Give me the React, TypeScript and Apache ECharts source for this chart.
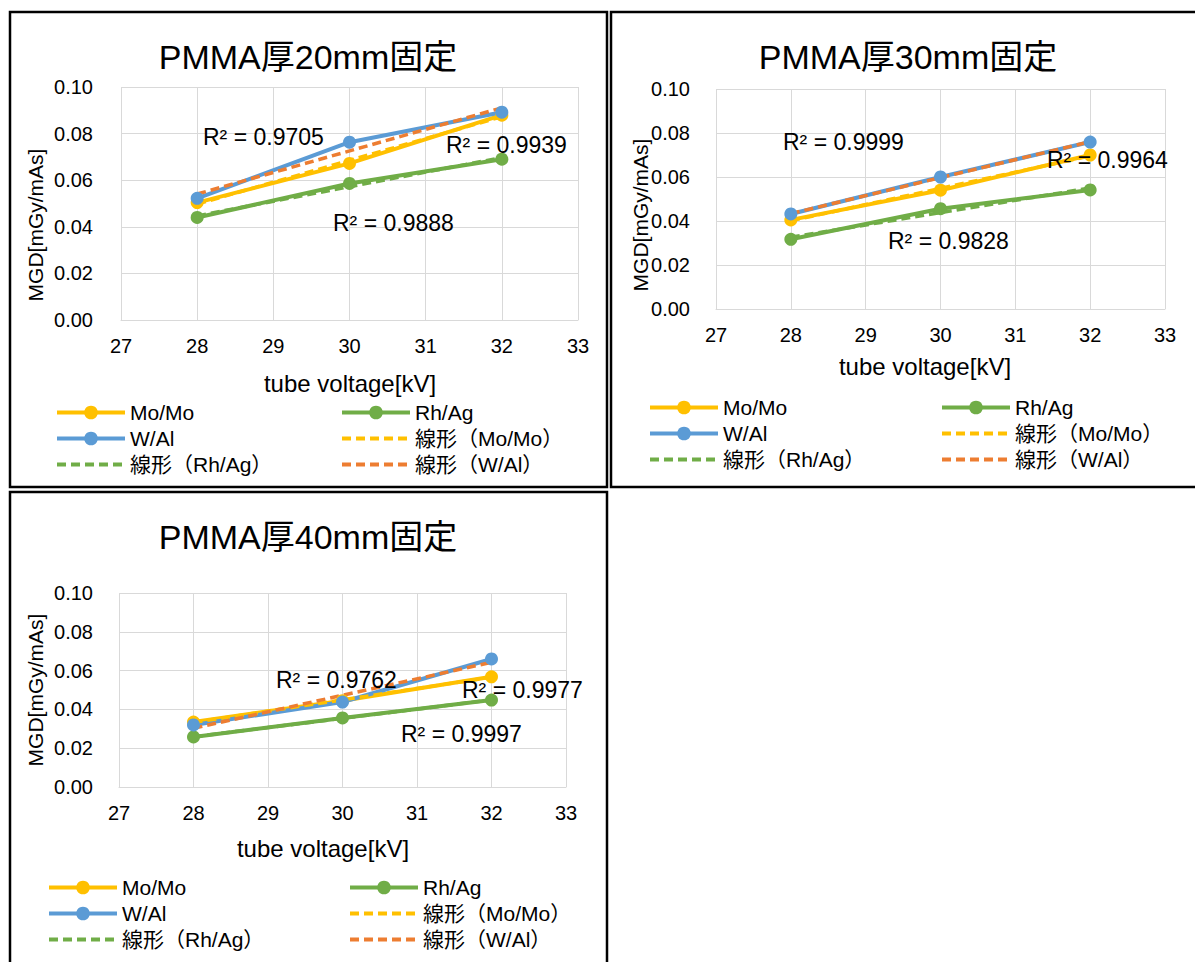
import React, { useEffect, useRef } from "react";
import * as echarts from "echarts";

// ---------- data ----------
const voltages = [28, 30, 32];
const seriesNames = ["Mo/Mo", "Rh/Ag", "W/Al"];
const trendNames = ["線形（Mo/Mo）", "線形（Rh/Ag）", "線形（W/Al）"];
const chartTitles = ["PMMA厚20mm固定", "PMMA厚30mm固定", "PMMA厚40mm固定"];
const xAxisTitle = "tube voltage[kV]";
const yAxisTitle = "MGD[mGy/mAs]";

const mgd20MoMo = [0.0504, 0.0672, 0.0879];
const mgd20RhAg = [0.044, 0.0586, 0.069];
const mgd20WAl = [0.0522, 0.0763, 0.0892];

const mgd30MoMo = [0.0405, 0.054, 0.07];
const mgd30RhAg = [0.0317, 0.0456, 0.0541];
const mgd30WAl = [0.0432, 0.06, 0.0759];

const mgd40MoMo = [0.0335, 0.0445, 0.0568];
const mgd40RhAg = [0.0258, 0.0356, 0.0448];
const mgd40WAl = [0.032, 0.0438, 0.066];

// R² labels as printed
const r2Labels20 = ["R² = 0.9705", "R² = 0.9939", "R² = 0.9888"];
const r2Labels30 = ["R² = 0.9999", "R² = 0.9964", "R² = 0.9828"];
const r2Labels40 = ["R² = 0.9762", "R² = 0.9977", "R² = 0.9997"];

const xMin = 27;
const xMax = 33;
const yMin = 0;
const yMax = 0.1;

// ---------- styles / layout ----------
const FONT = '"Liberation Sans", "Noto Sans CJK JP", sans-serif';
const SERIES_COLORS = ["#FFC000", "#70AD47", "#5B9BD5"];
const TREND_COLORS = ["#FFC000", "#70AD47", "#ED7D31"];
const GRID_COLOR = "#D9D9D9";

const layouts = [
  {
    box: [10, 12, 597, 475],
    title: [308, 57],
    grid: { left: 121, top: 87, width: 457, height: 233 },
    yLabelMargin: 28,
    yName: [35, 225],
    xName: [350, 383],
    legendCols: [55, 340],
    legendTop: 402,
    r2: [
      [203, 137],
      [446, 145],
      [333, 223],
    ],
  },
  {
    box: [611, 12, 620, 475],
    title: [908, 57],
    grid: { left: 716, top: 89, width: 449, height: 220 },
    yLabelMargin: 26,
    yName: [640, 215],
    xName: [925, 366],
    legendCols: [648, 940],
    legendTop: 397,
    r2: [
      [783, 142],
      [1047, 160],
      [888, 241],
    ],
  },
  {
    box: [10, 492, 597, 500],
    title: [308, 537],
    grid: { left: 119, top: 593, width: 447, height: 194 },
    yLabelMargin: 26,
    yName: [35, 690],
    xName: [323, 848],
    legendCols: [47, 348],
    legendTop: 877,
    r2: [
      [276, 680],
      [462, 690],
      [401, 734],
    ],
  },
];

const panels = [
  { title: chartTitles[0], values: [mgd20MoMo, mgd20RhAg, mgd20WAl], r2: r2Labels20 },
  { title: chartTitles[1], values: [mgd30MoMo, mgd30RhAg, mgd30WAl], r2: r2Labels30 },
  { title: chartTitles[2], values: [mgd40MoMo, mgd40RhAg, mgd40WAl], r2: r2Labels40 },
];

function linearFit(xs: number[], ys: number[]) {
  const n = xs.length;
  const mx = xs.reduce((s, v) => s + v, 0) / n;
  const my = ys.reduce((s, v) => s + v, 0) / n;
  let sxy = 0;
  let sxx = 0;
  for (let i = 0; i < n; i++) {
    sxy += (xs[i] - mx) * (ys[i] - my);
    sxx += (xs[i] - mx) * (xs[i] - mx);
  }
  const b = sxy / sxx;
  const a = my - b * mx;
  return (x: number) => a + b * x;
}

function buildOption() {
  const grids: any[] = [];
  const xAxes: any[] = [];
  const yAxes: any[] = [];
  const series: any[] = [];
  const legends: any[] = [];
  const graphics: any[] = [];

  panels.forEach((p, i) => {
    const L = layouts[i];
    grids.push({ ...L.grid, containLabel: false, outerBoundsMode: "none" });
    xAxes.push({
      type: "value",
      gridIndex: i,
      min: xMin,
      max: xMax,
      interval: 1,
      axisLine: { show: true, lineStyle: { color: GRID_COLOR, width: 1 } },
      axisTick: { show: false },
      splitLine: { show: true, lineStyle: { color: GRID_COLOR, width: 1 } },
      axisLabel: { color: "#000", fontSize: 20, fontFamily: FONT, margin: 16 },
    });
    yAxes.push({
      type: "value",
      gridIndex: i,
      min: yMin,
      max: yMax,
      interval: 0.02,
      axisLine: { show: false },
      axisTick: { show: false },
      splitLine: { show: true, lineStyle: { color: GRID_COLOR, width: 1 } },
      axisLabel: {
        color: "#000",
        fontSize: 20,
        fontFamily: FONT,
        margin: L.yLabelMargin,
        formatter: (v: number) => v.toFixed(2),
      },
    });

    p.values.forEach((vals, k) => {
      series.push({
        type: "line",
        name: seriesNames[k],
        xAxisIndex: i,
        yAxisIndex: i,
        data: voltages.map((v, j) => [v, vals[j]]),
        symbol: "circle",
        symbolSize: 13,
        showSymbol: true,
        lineStyle: { color: SERIES_COLORS[k], width: 4 },
        itemStyle: { color: SERIES_COLORS[k] },
        silent: true,
      });
    });
    p.values.forEach((vals, k) => {
      const f = linearFit(voltages, vals);
      const x0 = voltages[0];
      const x1 = voltages[voltages.length - 1];
      series.push({
        type: "line",
        name: trendNames[k],
        xAxisIndex: i,
        yAxisIndex: i,
        data: [
          [x0, f(x0)],
          [x1, f(x1)],
        ],
        symbol: "none",
        showSymbol: false,
        lineStyle: { color: TREND_COLORS[k], width: 3.5, type: [9, 5] },
        itemStyle: { color: TREND_COLORS[k], opacity: 0 },
        silent: true,
      });
    });

    const legendBase = {
      orient: "vertical",
      top: L.legendTop,
      padding: 0,
      itemWidth: 68,
      itemHeight: 17,
      itemGap: 5,
      selectedMode: false,
      lineStyle: { width: 4 },
      textStyle: { color: "#000", fontSize: 21, fontFamily: FONT, lineHeight: 20 },
    };
    legends.push({
      ...legendBase,
      left: L.legendCols[0],
      data: [seriesNames[0], seriesNames[2], trendNames[1]],
    });
    legends.push({
      ...legendBase,
      left: L.legendCols[1],
      data: [seriesNames[1], trendNames[0], trendNames[2]],
    });

    graphics.push({
      type: "rect",
      shape: { x: L.box[0], y: L.box[1], width: L.box[2], height: L.box[3] },
      style: { fill: "none", stroke: "#000", lineWidth: 2.5 },
      silent: true,
      z: 100,
    });
    graphics.push({
      type: "text",
      x: L.title[0],
      y: L.title[1],
      style: {
        text: p.title,
        fontSize: 34,
        fontFamily: FONT,
        fill: "#000",
        textAlign: "center",
        textVerticalAlign: "middle",
      },
    });
    graphics.push({
      type: "text",
      x: L.yName[0],
      y: L.yName[1],
      rotation: Math.PI / 2,
      style: {
        text: yAxisTitle,
        fontSize: 21,
        fontFamily: FONT,
        fill: "#000",
        textAlign: "center",
        textVerticalAlign: "middle",
      },
    });
    graphics.push({
      type: "text",
      x: L.xName[0],
      y: L.xName[1],
      style: {
        text: xAxisTitle,
        fontSize: 24,
        fontFamily: FONT,
        fill: "#000",
        textAlign: "center",
        textVerticalAlign: "middle",
      },
    });
    p.r2.forEach((txt, k) => {
      graphics.push({
        type: "text",
        x: L.r2[k][0],
        y: L.r2[k][1],
        z: 50,
        style: {
          text: txt,
          fontSize: 23,
          fontFamily: FONT,
          fill: "#000",
          textAlign: "left",
          textVerticalAlign: "middle",
        },
      });
    });
  });

  return {
    animation: false,
    backgroundColor: "#fff",
    grid: grids,
    xAxis: xAxes,
    yAxis: yAxes,
    legend: legends,
    series,
    graphic: graphics,
  };
}

export default function App() {
  const ref = useRef<HTMLDivElement>(null);
  useEffect(() => {
    const chart = echarts.init(ref.current!, null, { renderer: "svg" });
    chart.setOption(buildOption() as any);
    return () => chart.dispose();
  }, []);
  return (
    <div
      ref={ref}
      style={{ position: "absolute", left: 0, top: 0, width: 1195, height: 962, background: "#fff" }}
    />
  );
}
